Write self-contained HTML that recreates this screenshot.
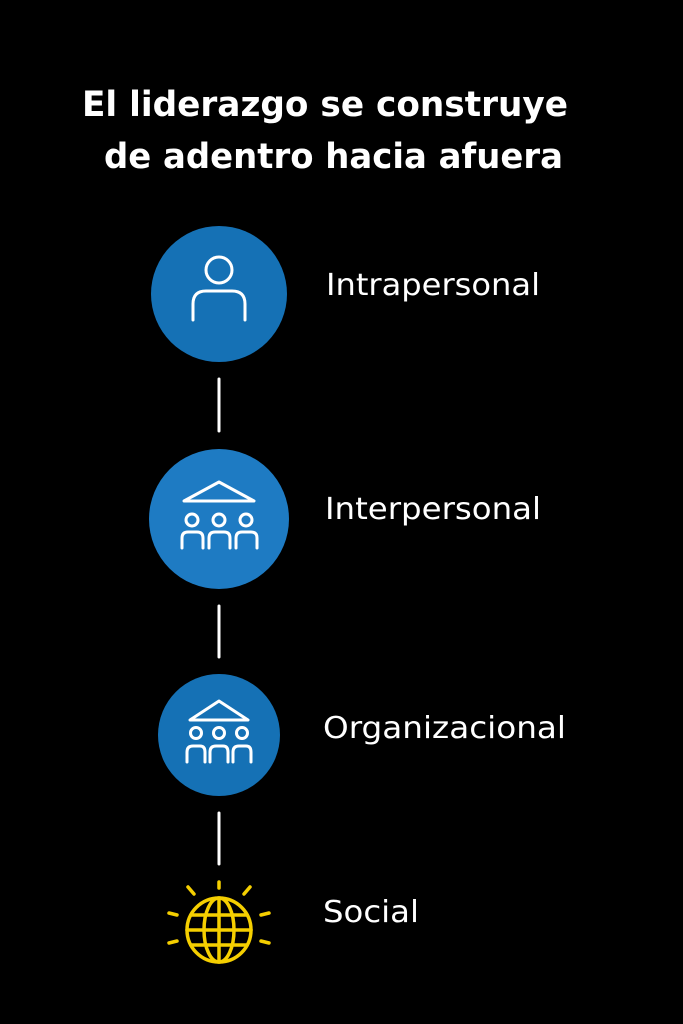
<!DOCTYPE html>
<html><head><meta charset="utf-8"><style>
html,body{margin:0;padding:0;background:#000;}
svg{display:block}
text{font-family:"DejaVu Sans","Liberation Sans",sans-serif;fill:#fff}
</style></head><body>
<svg width="683" height="1024" viewBox="0 0 683 1024" xmlns="http://www.w3.org/2000/svg">
<rect width="683" height="1024" fill="#000"/>
<text x="82" y="116" font-size="35" font-weight="bold" textLength="486" lengthAdjust="spacingAndGlyphs">El liderazgo se construye</text>
<text x="104" y="168" font-size="35" font-weight="bold" textLength="459" lengthAdjust="spacingAndGlyphs">de adentro hacia afuera</text>

<g stroke="#fff" stroke-width="3" stroke-linecap="round">
<line x1="219" y1="379" x2="219" y2="431"/>
<line x1="219" y1="606" x2="219" y2="657"/>
<line x1="219" y1="813" x2="219" y2="864"/>
</g>

<circle cx="219" cy="294" r="68" fill="#1571b5"/>
<g fill="none" stroke="#fff" stroke-width="3" stroke-linecap="round">
<circle cx="219" cy="270" r="13"/>
<path d="M193 320 V304 Q193 291 206 291 H232 Q245 291 245 304 V320"/>
</g>

<circle cx="219" cy="519" r="70" fill="#1e7bc3"/>
<g fill="none" stroke="#fff" stroke-width="3" stroke-linecap="round" stroke-linejoin="round">
<path d="M184 501 L219 482 L254 501 Z"/>
<circle cx="192" cy="520" r="6"/><circle cx="219" cy="520" r="6"/><circle cx="246" cy="520" r="6"/>
<path d="M182 548 V538 Q182 532 188 532 H197 Q203 532 203 538 V548"/>
<path d="M209 548 V538 Q209 532 215 532 H224 Q230 532 230 538 V548"/>
<path d="M236 548 V538 Q236 532 242 532 H251 Q257 532 257 538 V548"/>
</g>

<circle cx="219" cy="735" r="61" fill="#1571b5"/>
<g fill="none" stroke="#fff" stroke-width="3" stroke-linecap="round" stroke-linejoin="round">
<path d="M190 720 L219 701 L248 720 Z"/>
<circle cx="196" cy="733" r="5.5"/><circle cx="219" cy="733" r="5.5"/><circle cx="242" cy="733" r="5.5"/>
<path d="M187 762 V752 Q187 746 193 746 H200 Q205 746 205 752 V762"/>
<path d="M210 762 V752 Q210 746 216 746 H223 Q228 746 228 752 V762"/>
<path d="M233 762 V752 Q233 746 239 746 H246 Q251 746 251 752 V762"/>
</g>

<g fill="none" stroke="#f5cf00" stroke-width="3.5" stroke-linecap="round">
<circle cx="219" cy="930" r="32"/>
<ellipse cx="219" cy="930" rx="15" ry="32"/>
<line x1="219" y1="898" x2="219" y2="962"/>
<line x1="187" y1="930" x2="251" y2="930"/>
<line x1="191" y1="915" x2="247" y2="915"/>
<line x1="191" y1="945" x2="247" y2="945"/>
<line x1="219" y1="882" x2="219" y2="888"/>
<line x1="188" y1="887" x2="194" y2="894"/>
<line x1="250" y1="887" x2="244" y2="894"/>
<line x1="169" y1="913" x2="177" y2="915"/>
<line x1="269" y1="913" x2="261" y2="915"/>
<line x1="169" y1="943" x2="177" y2="941"/>
<line x1="269" y1="943" x2="261" y2="941"/>
</g>

<text x="326" y="295" font-size="30" textLength="214" lengthAdjust="spacingAndGlyphs">Intrapersonal</text>
<text x="325" y="519" font-size="30" textLength="216" lengthAdjust="spacingAndGlyphs">Interpersonal</text>
<text x="323" y="738" font-size="30" textLength="243" lengthAdjust="spacingAndGlyphs">Organizacional</text>
<text x="323" y="922" font-size="30" textLength="96" lengthAdjust="spacingAndGlyphs">Social</text>
</svg>
</body></html>
